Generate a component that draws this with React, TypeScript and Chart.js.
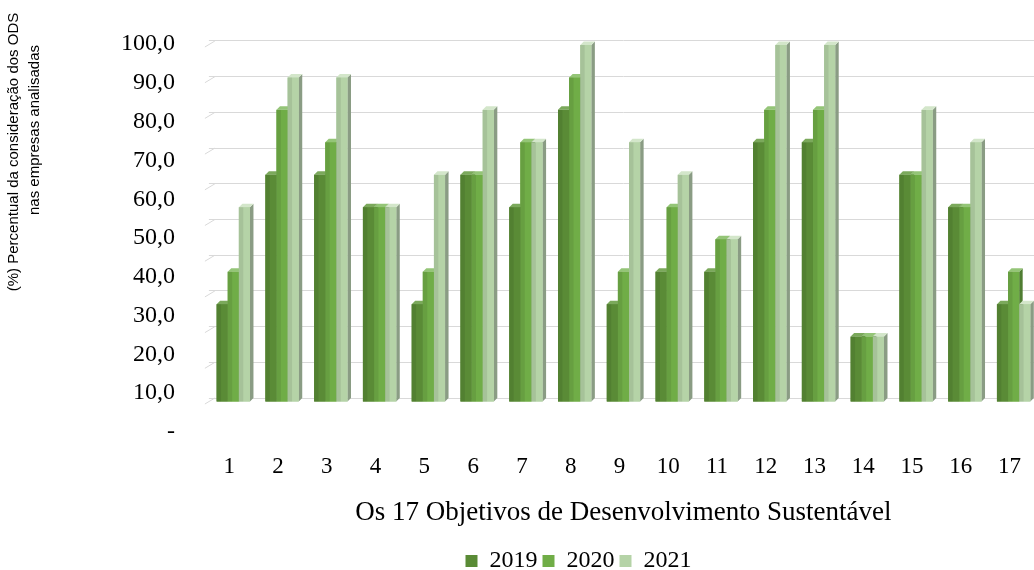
import React, { useEffect, useRef } from 'react';
import { Chart, registerables } from 'chart.js';

Chart.register(...registerables);

const goals = ['1', '2', '3', '4', '5', '6', '7', '8', '9', '10', '11', '12', '13', '14', '15', '16', '17'];
const seriesNames = ['2019', '2020', '2021'];
const values2019 = [27.3, 63.6, 63.6, 54.5, 27.3, 63.6, 54.5, 81.8, 27.3, 36.4, 36.4, 72.7, 72.7, 18.2, 63.6, 54.5, 27.3];
const values2020 = [36.4, 81.8, 72.7, 54.5, 36.4, 63.6, 72.7, 90.9, 36.4, 54.5, 45.5, 81.8, 81.8, 18.2, 63.6, 54.5, 36.4];
const values2021 = [54.5, 90.9, 90.9, 54.5, 63.6, 81.8, 72.7, 100, 72.7, 63.6, 45.5, 100, 100, 18.2, 81.8, 72.7, 27.3];
const yTickValues = [0, 10, 20, 30, 40, 50, 60, 70, 80, 90, 100];
const xTitle = 'Os 17 Objetivos de Desenvolvimento Sustentável';
const yTitleLines = ['(%) Percentual da consideração dos ODS', 'nas empresas analisadas'];

const frontColors = ['#5a8b36', '#70ad47', '#b5d3a7'];
const sideColors = ['#3f6326', '#4f7d32', '#8a9c84'];
const topColors = ['#7ba95b', '#94c577', '#d3e6ca'];

const SERIF = "'Liberation Serif', 'Times New Roman', serif";
const SANS = "'Liberation Sans', Arial, sans-serif";

const fixedTicks = (scale: any) => {
  scale.ticks = yTickValues.map((v) => ({ value: v }));
};

const bars3d = {
  id: 'bars3d',
  afterDatasetsDraw(chart: any) {
    const ctx = chart.ctx;
    const d = 3.5;
    ctx.save();
    chart.data.datasets.forEach((_: any, i: number) => {
      const meta = chart.getDatasetMeta(i);
      meta.data.forEach((el: any) => {
        const { x, y, base, width } = el.getProps(['x', 'y', 'base', 'width'], true);
        const l = x - width / 2;
        const r = x + width / 2;
        ctx.fillStyle = sideColors[i];
        ctx.beginPath();
        ctx.moveTo(r, y);
        ctx.lineTo(r + d, y - d);
        ctx.lineTo(r + d, base - d);
        ctx.lineTo(r, base);
        ctx.closePath();
        ctx.fill();
        ctx.fillStyle = topColors[i];
        ctx.beginPath();
        ctx.moveTo(l, y);
        ctx.lineTo(l + d, y - d);
        ctx.lineTo(r + d, y - d);
        ctx.lineTo(r, y);
        ctx.closePath();
        ctx.fill();
        ctx.fillStyle = frontColors[i];
        ctx.fillRect(l, y, width, base - y);
        ctx.fillStyle = 'rgba(0,0,0,0.08)';
        ctx.fillRect(l, y, width * 0.4, base - y);
      });
    });
    ctx.restore();
  },
};

const gridStubs = {
  id: 'gridStubs',
  beforeDatasetsDraw(chart: any) {
    const ctx = chart.ctx;
    const s = chart.scales.yg;
    const left = chart.chartArea.left;
    ctx.save();
    ctx.strokeStyle = '#d9d9d9';
    ctx.lineWidth = 1;
    yTickValues.forEach((v) => {
      const py = s.getPixelForValue(v);
      ctx.beginPath();
      ctx.moveTo(left - 4, py + 6);
      ctx.lineTo(left + 6, py);
      ctx.stroke();
    });
    ctx.restore();
  },
};

const yTitle = {
  id: 'yTitle',
  afterDraw(chart: any) {
    const ctx = chart.ctx;
    ctx.save();
    ctx.fillStyle = '#000';
    ctx.font = `15px ${SANS}`;
    ctx.textAlign = 'center';
    ctx.textBaseline = 'middle';
    const pos = [
      [14, 152],
      [35, 130],
    ];
    yTitleLines.forEach((line, i) => {
      ctx.save();
      ctx.translate(pos[i][0], pos[i][1]);
      ctx.rotate(-Math.PI / 2);
      ctx.fillText(line, 0, 0);
      ctx.restore();
    });
    ctx.restore();
  },
};

const PAD_LEFT = 119;
const PLOT_LEFT = 208.9;

export default function App() {
  const ref = useRef<HTMLCanvasElement>(null);

  useEffect(() => {
    document.body.style.margin = '0';
    if (!ref.current) return;
    const chart = new Chart(ref.current, {
      type: 'bar',
      data: {
        labels: goals,
        datasets: [values2019, values2020, values2021].map((vals, i) => ({
          label: seriesNames[i],
          data: vals,
          backgroundColor: frontColors[i],
          borderWidth: 0,
          yAxisID: 'yb',
          categoryPercentage: 0.684,
          barPercentage: 1,
        })),
      },
      options: {
        responsive: false,
        animation: false,
        devicePixelRatio: 1,
        layout: { padding: { top: 38, left: PAD_LEFT, right: 0, bottom: 0 } },
        plugins: {
          tooltip: { enabled: false },
          legend: {
            position: 'bottom',
            labels: {
              boxWidth: 12,
              boxHeight: 12,
              padding: 5,
              color: '#000',
              font: { family: SERIF, size: 24 },
            },
          },
        },
        scales: {
          x: {
            type: 'category',
            offset: true,
            grid: { display: false, drawTicks: false },
            border: { display: false },
            ticks: {
              color: '#000',
              font: { family: SERIF, size: 23 },
              padding: 21,
              labelOffset: -4,
              maxRotation: 0,
              autoSkip: false,
            },
            title: {
              display: true,
              text: xTitle,
              color: '#000',
              font: { family: SERIF, size: 27 },
              padding: { top: 0, bottom: 15 },
            },
            afterFit: (s: any) => {
              s.height = 112;
              s.paddingLeft = 0;
              s.paddingRight = 0;
            },
          },
          y: {
            position: 'left',
            min: 0,
            max: 101.55,
            grid: { display: false, drawTicks: false },
            border: { display: false },
            afterBuildTicks: fixedTicks,
            ticks: {
              color: '#000',
              font: { family: SERIF, size: 24 },
              padding: 34,
              callback: (v: any) => (Number(v) === 0 ? '-' : Number(v).toFixed(1).replace('.', ',')),
            },
            afterFit: (s: any) => {
              s.width = PLOT_LEFT - PAD_LEFT;
              s.paddingTop = 0;
              s.paddingBottom = 0;
            },
          },
          yb: {
            display: false,
            min: -8.555,
            max: 101.96,
          },
          yg: {
            position: 'right',
            min: -9.52,
            max: 100.84,
            afterBuildTicks: fixedTicks,
            grid: { display: true, color: '#d9d9d9', lineWidth: 1, drawTicks: false },
            border: { display: false },
            ticks: { display: false },
            afterFit: (s: any) => {
              s.width = 0;
              s.paddingTop = 0;
              s.paddingBottom = 0;
            },
          },
        },
      },
      plugins: [gridStubs, bars3d, yTitle],
    });
    return () => chart.destroy();
  }, []);

  return (
    <div style={{ position: 'fixed', left: 0, top: 0, width: 1034, height: 570, overflow: 'hidden', background: '#fff' }}>
      <canvas ref={ref} width={1038} height={583} style={{ display: 'block' }} />
    </div>
  );
}
